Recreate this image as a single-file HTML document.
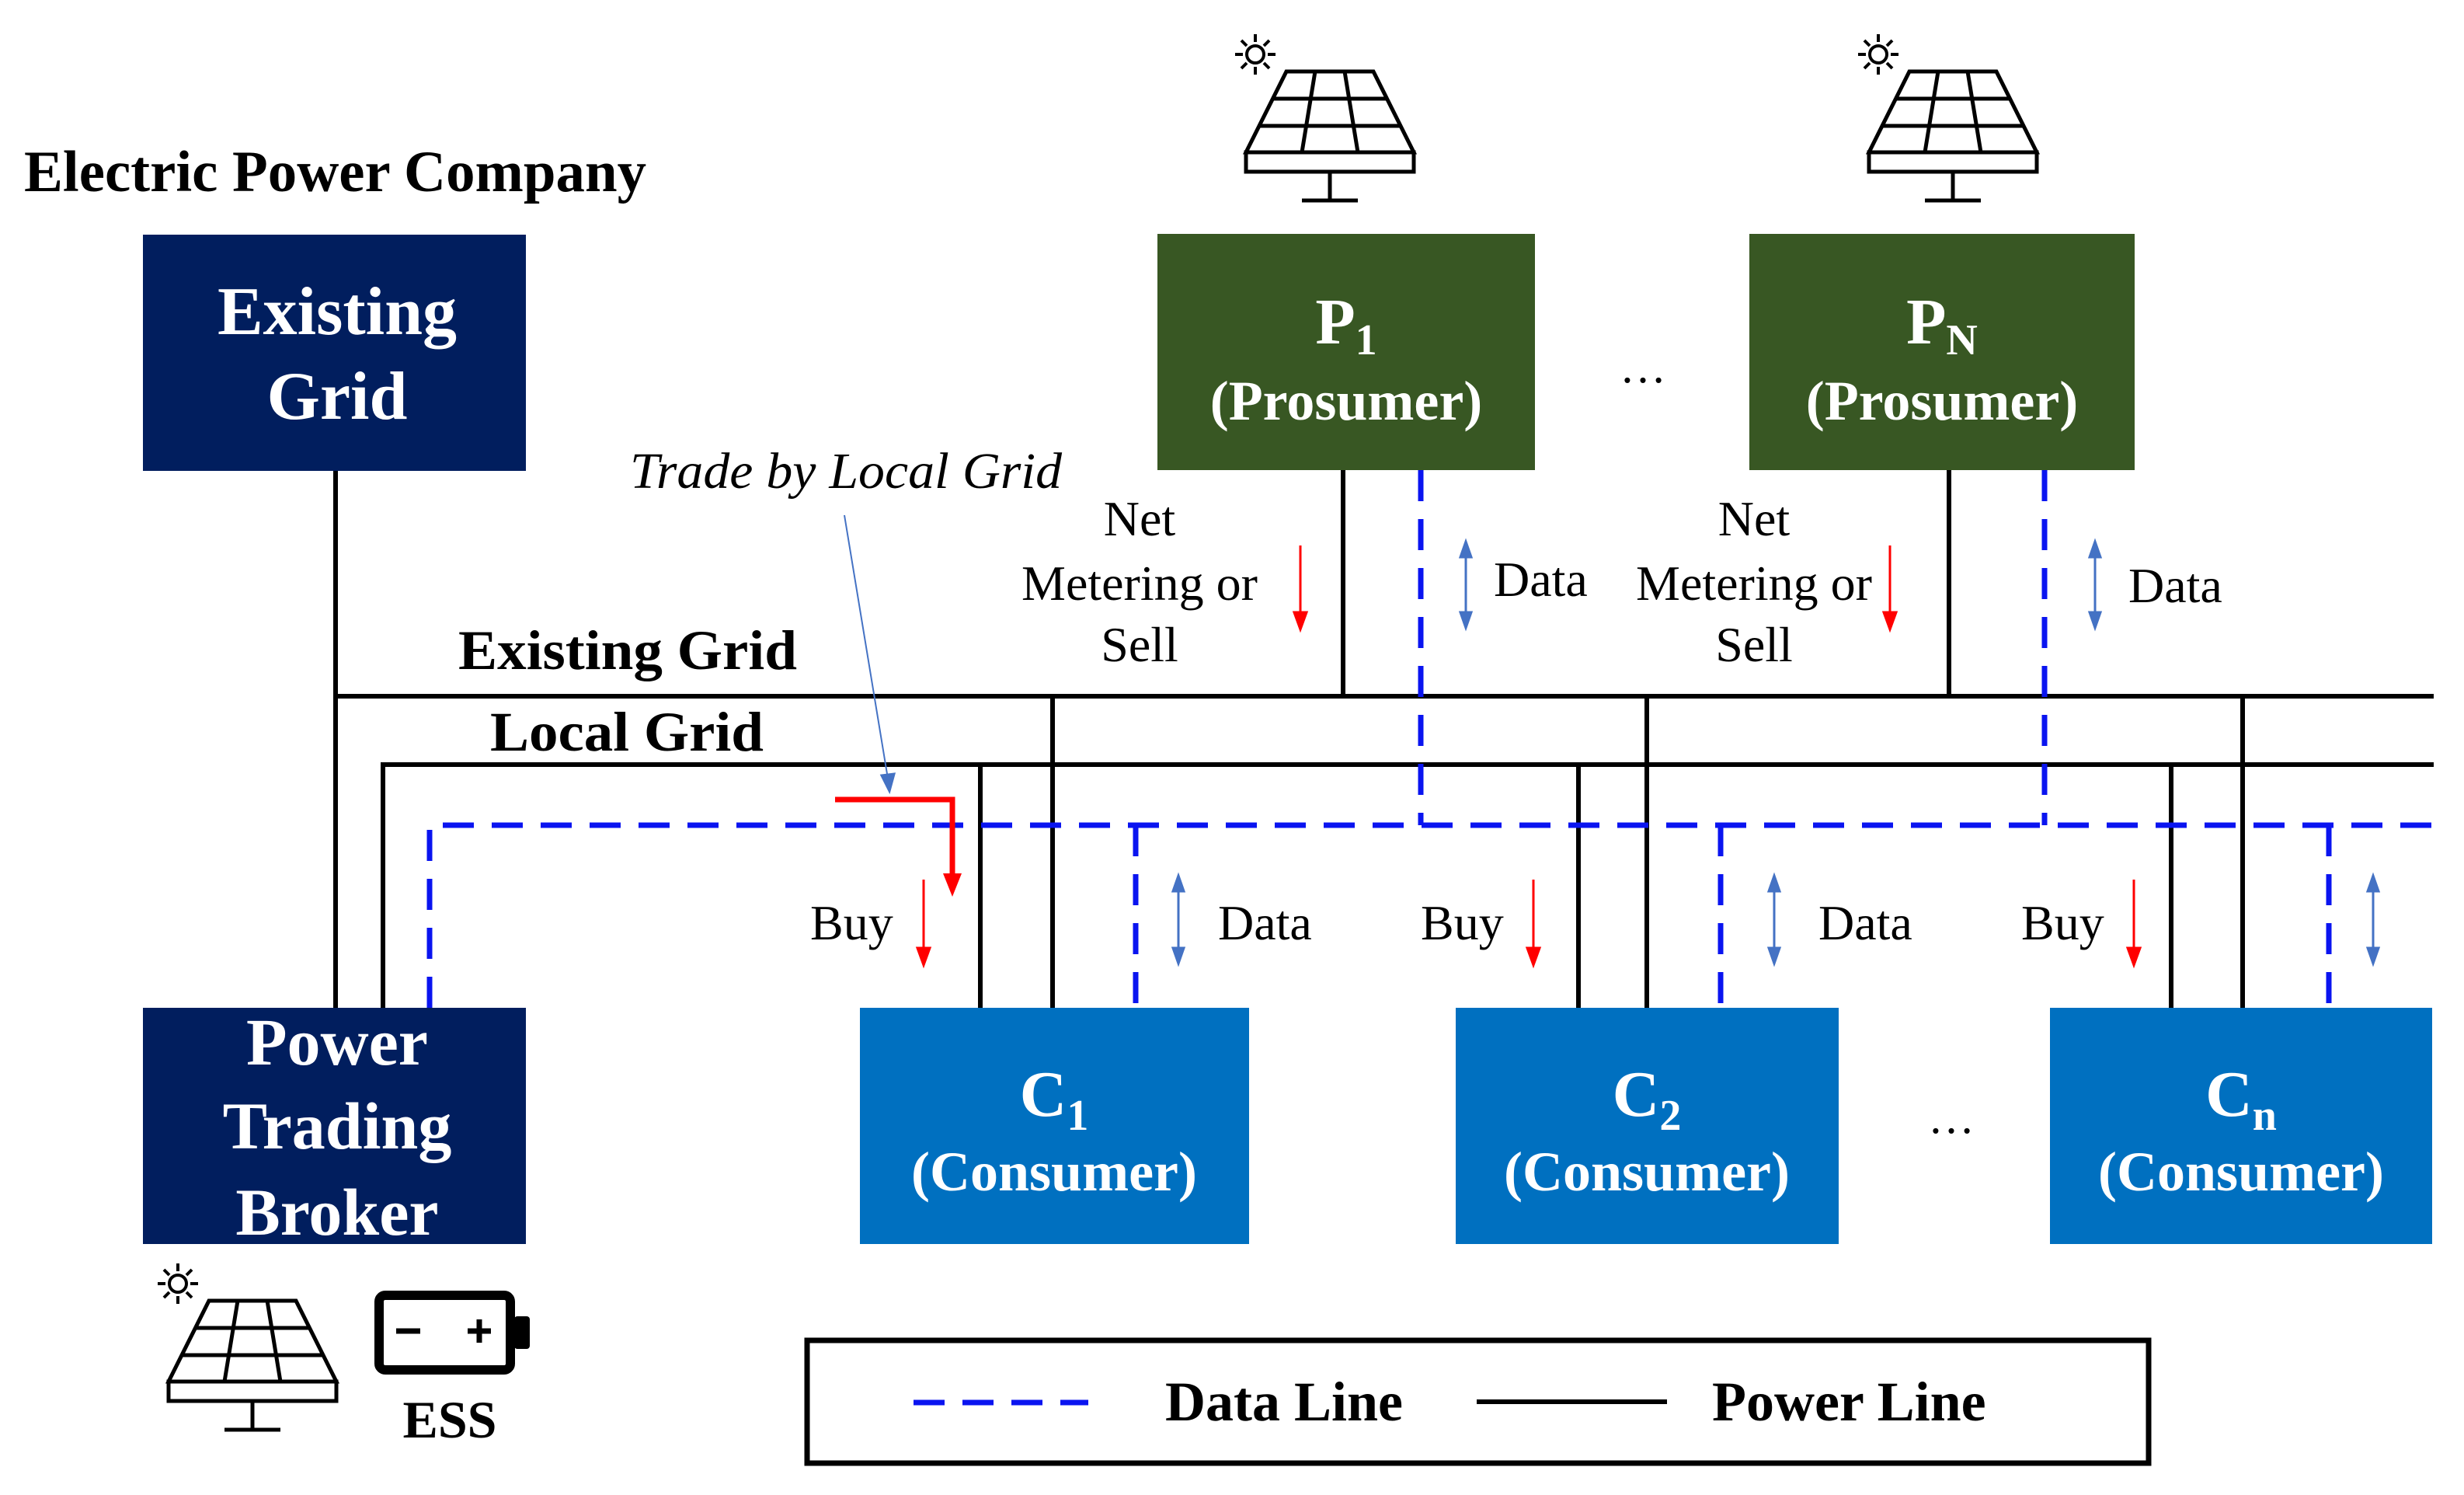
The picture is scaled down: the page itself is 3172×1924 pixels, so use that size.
<!DOCTYPE html>
<html><head><meta charset="utf-8"><style>
html,body{margin:0;padding:0;background:#fff;}
svg{display:block;}
.b{font-family:"Liberation Serif",serif;font-weight:bold;}
.r{font-family:"Liberation Serif",serif;}
</style></head><body>
<svg width="3172" height="1924" viewBox="0 0 3172 1924" xmlns="http://www.w3.org/2000/svg">
<defs>
<g id="panel" fill="none" stroke="#000" stroke-width="5">
  <polygon points="-56,0 56,0 108,104 -108,104" fill="#fff"/>
  <line x1="-73" y1="35" x2="73" y2="35"/>
  <line x1="-91" y1="70" x2="91" y2="70"/>
  <line x1="-19" y1="0" x2="-36" y2="104"/>
  <line x1="19" y1="0" x2="36" y2="104"/>
  <rect x="-108" y="104" width="216" height="25"/>
  <line x1="0" y1="129" x2="0" y2="166"/>
  <line x1="-36" y1="166" x2="36" y2="166"/>
  <circle cx="-96" cy="-22" r="11" stroke-width="4"/>
  <g stroke-width="4">
   <line x1="-96" y1="-48" x2="-96" y2="-38"/><line x1="-96" y1="-6" x2="-96" y2="4"/>
   <line x1="-122" y1="-22" x2="-112" y2="-22"/><line x1="-80" y1="-22" x2="-70" y2="-22"/>
   <line x1="-114" y1="-40" x2="-107" y2="-33"/><line x1="-85" y1="-11" x2="-78" y2="-4"/>
   <line x1="-78" y1="-40" x2="-85" y2="-33"/><line x1="-107" y1="-11" x2="-114" y2="-4"/>
  </g>
</g>
</defs>

<!-- Title -->
<text x="31" y="246" class="b" font-size="75" textLength="801" lengthAdjust="spacingAndGlyphs">Electric Power Company</text>

<!-- Solar panels -->
<use href="#panel" x="1712" y="92"/>
<use href="#panel" x="2514" y="92"/>
<use href="#panel" x="325" y="1674"/>

<!-- Power lines -->
<g stroke="#000" stroke-width="6" fill="none">
  <line x1="432" y1="606" x2="432" y2="1297"/>
  <line x1="429" y1="896" x2="3133" y2="896"/>
  <line x1="490" y1="984" x2="3133" y2="984"/>
  <line x1="493" y1="984" x2="493" y2="1297"/>
  <line x1="1729" y1="605" x2="1729" y2="896"/>
  <line x1="2509" y1="605" x2="2509" y2="896"/>
  <line x1="1262" y1="984" x2="1262" y2="1297"/>
  <line x1="1355" y1="896" x2="1355" y2="1297"/>
  <line x1="2032" y1="984" x2="2032" y2="1297"/>
  <line x1="2120" y1="896" x2="2120" y2="1297"/>
  <line x1="2795" y1="984" x2="2795" y2="1297"/>
  <line x1="2887" y1="896" x2="2887" y2="1297"/>
</g>

<!-- Data lines -->
<g stroke="#0a14f0" stroke-width="7" fill="none" stroke-dasharray="40,23">
  <polyline points="553,1297 553,1062 3133,1062"/>
  <line x1="1829" y1="605" x2="1829" y2="1062"/>
  <line x1="2632" y1="605" x2="2632" y2="1062"/>
  <line x1="1462" y1="1062" x2="1462" y2="1297"/>
  <line x1="2215" y1="1062" x2="2215" y2="1297"/>
  <line x1="2998" y1="1062" x2="2998" y2="1297"/>
</g>

<!-- Boxes -->
<rect x="184" y="302" width="493" height="304" fill="#011e5e"/>
<rect x="184" y="1297" width="493" height="304" fill="#011e5e"/>
<rect x="1490" y="301" width="486" height="304" fill="#385723"/>
<rect x="2252" y="301" width="496" height="304" fill="#385723"/>
<rect x="1107" y="1297" width="501" height="304" fill="#0070c0"/>
<rect x="1874" y="1297" width="493" height="304" fill="#0070c0"/>
<rect x="2639" y="1297" width="492" height="304" fill="#0070c0"/>

<g class="b" fill="#fff" text-anchor="middle">
  <text x="434" y="430" font-size="88">Existing</text>
  <text x="434" y="539" font-size="88">Grid</text>
  <text x="434" y="1370" font-size="86">Power</text>
  <text x="434" y="1478" font-size="86">Trading</text>
  <text x="434" y="1589" font-size="86">Broker</text>
  <text x="1733" y="442" font-size="84">P<tspan font-size="56" dy="14">1</tspan></text>
  <text x="1733" y="540" font-size="72">(Prosumer)</text>
  <text x="2500" y="442" font-size="84">P<tspan font-size="56" dy="14">N</tspan></text>
  <text x="2500" y="540" font-size="72">(Prosumer)</text>
  <text x="1357" y="1436" font-size="84">C<tspan font-size="56" dy="18">1</tspan></text>
  <text x="1357" y="1532" font-size="72">(Consumer)</text>
  <text x="2120" y="1436" font-size="84">C<tspan font-size="56" dy="18">2</tspan></text>
  <text x="2120" y="1532" font-size="72">(Consumer)</text>
  <text x="2885" y="1436" font-size="84">C<tspan font-size="56" dy="18">n</tspan></text>
  <text x="2885" y="1532" font-size="72">(Consumer)</text>
</g>

<!-- ellipses -->
<text x="2115" y="492" class="r" font-size="60" text-anchor="middle">…</text>
<text x="2512" y="1458" class="r" font-size="60" text-anchor="middle">…</text>

<!-- Labels -->
<text x="590" y="861" class="b" font-size="72" textLength="436" lengthAdjust="spacingAndGlyphs">Existing Grid</text>
<text x="631" y="966" class="b" font-size="72" textLength="352" lengthAdjust="spacingAndGlyphs">Local Grid</text>
<text x="811" y="628" class="r" font-style="italic" font-size="66" textLength="556" lengthAdjust="spacingAndGlyphs">Trade by Local Grid</text>

<g class="r" font-size="64" text-anchor="middle">
  <text x="1467" y="689">Net</text>
  <text x="1467" y="772">Metering or</text>
  <text x="1467" y="851">Sell</text>
  <text x="2258" y="689">Net</text>
  <text x="2258" y="772">Metering or</text>
  <text x="2258" y="851">Sell</text>
</g>
<g class="r" font-size="64">
  <text x="1923" y="767">Data</text>
  <text x="2740" y="775">Data</text>
  <text x="1043" y="1209">Buy</text>
  <text x="1829" y="1209">Buy</text>
  <text x="2602" y="1209">Buy</text>
  <text x="1568" y="1209">Data</text>
  <text x="2341" y="1209">Data</text>
</g>

<!-- Red arrows -->
<g stroke="#f00" stroke-width="3" fill="#f00">
  <line x1="1674" y1="702" x2="1674" y2="790"/><polygon points="1666,788 1682,788 1674,810"/>
  <line x1="2433" y1="702" x2="2433" y2="790"/><polygon points="2425,788 2441,788 2433,810"/>
  <line x1="1189" y1="1132" x2="1189" y2="1222"/><polygon points="1181,1220 1197,1220 1189,1242"/>
  <line x1="1974" y1="1132" x2="1974" y2="1222"/><polygon points="1966,1220 1982,1220 1974,1242"/>
  <line x1="2747" y1="1132" x2="2747" y2="1222"/><polygon points="2739,1220 2755,1220 2747,1242"/>
</g>
<polyline points="1075,1029 1226,1029 1226,1128" fill="none" stroke="#f00" stroke-width="7"/>
<polygon points="1214,1124 1238,1124 1226,1154" fill="#f00"/>

<!-- Blue double arrows -->
<g stroke="#4472c4" stroke-width="3" fill="#4472c4">
  <line x1="1887" y1="715" x2="1887" y2="790"/><polygon points="1880,717 1894,717 1887,697"/><polygon points="1880,788 1894,788 1887,808"/>
  <line x1="2697" y1="715" x2="2697" y2="790"/><polygon points="2690,717 2704,717 2697,697"/><polygon points="2690,788 2704,788 2697,808"/>
  <line x1="1517" y1="1145" x2="1517" y2="1222"/><polygon points="1510,1147 1524,1147 1517,1127"/><polygon points="1510,1220 1524,1220 1517,1240"/>
  <line x1="2284" y1="1145" x2="2284" y2="1222"/><polygon points="2277,1147 2291,1147 2284,1127"/><polygon points="2277,1220 2291,1220 2284,1240"/>
  <line x1="3055" y1="1145" x2="3055" y2="1222"/><polygon points="3048,1147 3062,1147 3055,1127"/><polygon points="3048,1220 3062,1220 3055,1240"/>
  <line x1="1087" y1="663" x2="1143" y2="1002" stroke-width="2"/><polygon points="1135,998 1151,996 1145,1018"/>
</g>

<!-- Battery -->
<rect x="488" y="1667" width="169" height="96" rx="8" fill="none" stroke="#000" stroke-width="12"/>
<rect x="662" y="1694" width="20" height="42" rx="4" fill="#000"/>
<line x1="510" y1="1713" x2="541" y2="1713" stroke="#000" stroke-width="7"/>
<line x1="602" y1="1713" x2="632" y2="1713" stroke="#000" stroke-width="7"/>
<line x1="617" y1="1698" x2="617" y2="1728" stroke="#000" stroke-width="7"/>
<text x="579" y="1850" class="b" font-size="68" text-anchor="middle">ESS</text>

<!-- Legend -->
<rect x="1039" y="1725" width="1727" height="158" fill="none" stroke="#000" stroke-width="7"/>
<line x1="1176" y1="1805" x2="1401" y2="1805" stroke="#0a14f0" stroke-width="7" stroke-dasharray="40,23"/>
<text x="1500" y="1828" class="b" font-size="72">Data Line</text>
<line x1="1901" y1="1804" x2="2146" y2="1804" stroke="#000" stroke-width="6"/>
<text x="2204" y="1828" class="b" font-size="72">Power Line</text>
</svg>
</body></html>
